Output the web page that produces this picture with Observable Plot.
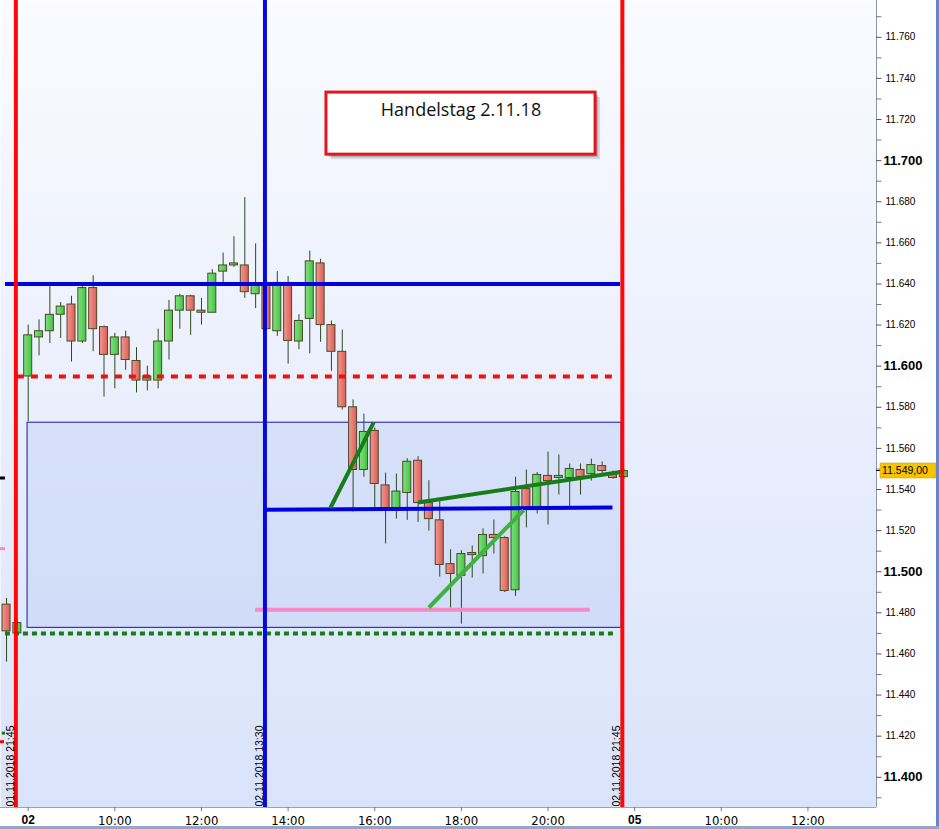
<!DOCTYPE html>
<html><head><meta charset="utf-8">
<script src="https://cdn.jsdelivr.net/npm/d3@7"></script>
<script src="https://cdn.jsdelivr.net/npm/@observablehq/plot@0.6"></script>
<style>html,body{margin:0;padding:0;background:#fff;} #chart{width:939px;height:829px;position:relative;overflow:hidden}</style>
</head><body><div id="chart"></div>
<script>
// ---- 15-minute candles (index 0 = 02.11.2018 08:00, -1 = 01.11.2018 21:45) ----
const candleIndex = [-2,-1,0,1,2,3,4,5,6,7,8,9,10,11,12,13,14,15,16,17,18,19,20,21,22,23,24,25,26,27,28,29,30,31,32,33,34,35,36,37,38,39,40,41,42,43,44,45,46,47,48,49,50,51,52,53,54,55];
const openValues  = [11484,11470,11595,11614,11617,11625,11630,11612,11638,11619,11605.5,11614,11602.5,11593,11593,11612,11627,11634,11627,11626,11646,11649,11649,11635,11640,11617,11640.5,11612,11623,11650,11620,11607,11580,11549.5,11568.5,11542,11530,11538.3,11554,11533.4,11525,11503.7,11498,11509.1,11507.6,11517.9,11516.4,11491,11540.2,11531.5,11546.6,11545.6,11545.6,11549.5,11547.5,11551.4,11547.5,11546];
const highValues  = [11487,11476,11620,11622.5,11639,11631,11634,11639,11644,11619.5,11616,11617,11609,11600,11618,11632,11635,11634.5,11633,11647,11655,11663,11682,11659.5,11642,11646,11643.6,11625,11656,11652,11622,11617.6,11583.6,11576.7,11570,11548,11547.5,11555,11556,11544.3,11534.6,11510.7,11510.2,11512.5,11520.8,11525.2,11517,11546,11549.5,11548.3,11558.2,11556.8,11552.4,11552.4,11554.8,11553.4,11549,11550];
const lowValues   = [11456,11469,11573,11605,11611,11613.5,11602,11611,11607,11585,11589,11598,11587,11588,11589,11603,11618,11615,11620,11626,11639,11648,11633,11628,11617,11614.5,11601,11608,11606,11611.6,11597.5,11578.7,11529,11546,11531,11513.5,11525.6,11525,11524,11519.8,11497.4,11482.3,11474.5,11496.9,11498.9,11508.6,11489.9,11488,11521.3,11528.1,11522.7,11537.3,11531.5,11537.3,11544.1,11547.5,11545,11545];
const closeValues = [11471,11475,11615,11617,11625,11629,11612,11638,11618,11605.5,11614,11603,11593,11595,11612,11627,11634,11627,11626,11645,11649,11650,11636,11640,11618,11640.5,11612.3,11622,11651,11620,11607,11580,11549.5,11568,11542.7,11530,11539,11553.5,11533.4,11525.6,11503.3,11498.9,11508.6,11508.1,11517.9,11516.4,11490.6,11538.8,11531,11547.1,11544.1,11546.6,11550,11546.1,11551.9,11549,11545.6,11549];
const lastPrice = 11549;
const lastPriceLabel = "11.549,00";

// ---- axes ----
const xTickIndex  = [0,8,16,24,32,40,48,56,64,72];
const xTickLabels = ["02","10:00","12:00","14:00","16:00","18:00","20:00","05","10:00","12:00"];
const dayTickLabels = ["02","05"];
const yTickValues = [11400,11420,11440,11460,11480,11500,11520,11540,11560,11580,11600,11620,11640,11660,11680,11700,11720,11740,11760];
const yTickLabels = ["11.400","11.420","11.440","11.460","11.480","11.500","11.520","11.540","11.560","11.580","11.600","11.620","11.640","11.660","11.680","11.700","11.720","11.740","11.760"];
const yMinorTicks = [11390,11410,11430,11450,11470,11490,11510,11530,11550,11570,11590,11610,11630,11650,11670,11690,11710,11730,11750,11770];
const xDomain = [-2.558, 78.33];
const yDomain = [11385.3, 11777.9];

// ---- drawings ----
const verticalLines = [
  {i: -1, color: "#ff0000", label: "01.11.2018 21:45"},
  {i: 22, color: "#0000e0", label: "02.11.2018 13:30"},
  {i: 55, color: "#ff0000", label: "02.11.2018 21:45"}
];
const resistanceLine = [{y: 11640, x1: -2.1, x2: 54.7}];
const redDashedLine  = [{y: 11595, x1: -1.0, x2: 53.95}];
const greenDotLine   = [{y: 11470, x1: -2.1, x2: 54.05}];
const pinkLine       = [{y: 11481.5, x1: 21.0, x2: 51.9}];
const rangeZone      = [{x1: -0.06, x2: 54.8, y1: 11472.7, y2: 11572.5}];
const trendLines = [
  {x1: 21.9, y1: 11530.2, x2: 53.95, y2: 11531.2, color: "#0000e0"},
  {x1: 27.9, y1: 11531.0, x2: 31.9, y2: 11572.7, color: "#187c18"},
  {x1: 36.0, y1: 11533.7, x2: 54.85, y2: 11548.6, color: "#187c18"},
  {x1: 37.0, y1: 11482.6, x2: 45.76, y2: 11530.0, color: "#3fb23f"}
];
const prevDayStubs = [
  {y: 11545.6, x1: -2.558, x2: -2.1, color: "#000000"},
  {y: 11511.2, x1: -2.558, x2: -2.1, color: "#f58ac8"},
  {y: 11417.3, x1: -2.558, x2: -2.19, color: "#ff0000"},
  {y: 11421.5, x1: -2.40, x2: -2.10, color: "#187c18"}
];
const titleBox = [{x1: 27.54, x2: 52.39, y1: 11702.9, y2: 11733.1, ty: 11724.3, label: "Handelstag 2.11.18"}];

const candles = candleIndex.map((i, k) => ({i, o: openValues[k], h: highValues[k], l: lowValues[k], c: closeValues[k]}));
const fmtLabel = v => yTickLabels[yTickValues.indexOf(v)];
const isHundred = v => v % 100 === 0;

const svg = Plot.plot({
  width: 939, height: 829,
  marginLeft: 0, marginRight: 63, marginTop: 0, marginBottom: 22,
  x: {domain: xDomain, axis: null},
  y: {domain: yDomain, axis: null},
  color: {type: "identity"},
  style: {background: "#ffffff", overflow: "visible"},
  marks: [
    Plot.frame({fill: "url(#bgGrad)", stroke: null}),
    Plot.rect(rangeZone, {x1: "x1", x2: "x2", y1: "y1", y2: "y2", fill: "#b2c4f4", fillOpacity: 0.32, stroke: "#1414b4", strokeWidth: 1}),
    Plot.ruleY(prevDayStubs, {y: "y", x1: "x1", x2: "x2", stroke: "color", strokeWidth: 3}),
    // candles
    Plot.ruleX(candles, {x: "i", y1: "l", y2: "h", stroke: "#2c4a1e", strokeWidth: 1}),
    Plot.rect(candles, {x1: d => d.i - 0.37, x2: d => d.i + 0.37, y1: "o", y2: "c",
      fill: d => d.c >= d.o ? "url(#gUp)" : "url(#gDn)", stroke: "#4a4a26", strokeWidth: 1}),
    // horizontal drawings
    Plot.ruleY(resistanceLine, {y: "y", x1: "x1", x2: "x2", stroke: "#0000e0", strokeWidth: 4}),
    Plot.ruleY(redDashedLine, {y: "y", x1: "x1", x2: "x2", stroke: "#f01010", strokeWidth: 4, strokeDasharray: "7,7"}),
    Plot.ruleY(greenDotLine, {y: "y", x1: "x1", x2: "x2", stroke: "#187c18", strokeWidth: 4, strokeDasharray: "5,4"}),
    Plot.ruleY(pinkLine, {y: "y", x1: "x1", x2: "x2", stroke: "#f58ac8", strokeWidth: 4}),
    Plot.link(trendLines, {x1: "x1", y1: "y1", x2: "x2", y2: "y2", stroke: "color", strokeWidth: 4}),
    // vertical time lines
    Plot.ruleX(verticalLines, {x: "i", stroke: "color", strokeWidth: 4, dx: -1.5, strokeOpacity: 0.97}),
    Plot.text(verticalLines, {x: "i", y: yDomain[0], text: "label", rotate: -90, textAnchor: "start", lineAnchor: "bottom",
      dx: -3.5, dy: -1, fontSize: 10.5, fill: "#000", fontFamily: "Liberation Sans, Arial, sans-serif"}),
    // title annotation
    Plot.rect(titleBox, {x1: "x1", x2: "x2", y1: "y1", y2: "y2", fill: "#000", fillOpacity: 0.12, dx: 5, dy: 5}),
    Plot.rect(titleBox, {x1: "x1", x2: "x2", y1: "y1", y2: "y2", fill: "#000", fillOpacity: 0.2, dx: 3, dy: 3}),
    Plot.rect(titleBox, {x1: "x1", x2: "x2", y1: "y1", y2: "y2", fill: "#ffffff", stroke: "#e3151d", strokeWidth: 3}),
    Plot.text(titleBox, {x: d => (d.x1 + d.x2) / 2, y: "ty", text: "label", fontSize: 18, fill: "#111",
      fontFamily: "Open Sans, Noto Sans, sans-serif"}),
    // axis frame lines
    Plot.ruleY([yDomain[0]], {y: d => d, x1: xDomain[0], x2: xDomain[1], stroke: "#9aa2b4", strokeWidth: 1}),
    Plot.ruleX([xDomain[1]], {x: d => d, y1: yDomain[0], y2: yDomain[1], stroke: "#8b96ae", strokeWidth: 1}),
    // y axis ticks and labels
    Plot.ruleY(yTickValues, {y: d => d, x1: xDomain[1], x2: xDomain[1] + 0.5, stroke: "#555"}),
    Plot.ruleY(yMinorTicks, {y: d => d, x1: xDomain[1], x2: xDomain[1] + 0.5, stroke: "#777"}),
    Plot.text(yTickValues.filter(v => !isHundred(v)), {x: xDomain[1], y: d => d, text: fmtLabel, dx: 9, textAnchor: "start",
      fontSize: 10, fill: "#000", fontFamily: "Liberation Sans, Arial, sans-serif"}),
    Plot.text(yTickValues.filter(isHundred), {x: xDomain[1], y: d => d, text: fmtLabel, dx: 7, textAnchor: "start",
      fontSize: 13, fontWeight: "bold", fill: "#000", fontFamily: "Liberation Sans, Arial, sans-serif"}),
    // x axis ticks and labels
    Plot.ruleX(xTickIndex, {x: d => d, y1: yDomain[0], y2: yDomain[0] - 2, stroke: "#777"}),
    Plot.text(xTickIndex.filter((d, k) => !dayTickLabels.includes(xTickLabels[k])), {x: d => d, y: yDomain[0], dy: 13,
      text: d => xTickLabels[xTickIndex.indexOf(d)], fontSize: 13, fill: "#000",
      fontFamily: "Liberation Sans Narrow, DejaVu Sans Condensed, sans-serif"}),
    Plot.text(xTickIndex.filter((d, k) => dayTickLabels.includes(xTickLabels[k])), {x: d => d, y: yDomain[0], dy: 13,
      text: d => xTickLabels[xTickIndex.indexOf(d)], fontSize: 12, fontWeight: "bold", fill: "#000",
      fontFamily: "Liberation Sans, Arial, sans-serif"})
  ]
});

// gradients
const defs = d3.create("svg:defs");
const bg = defs.append("linearGradient").attr("id", "bgGrad").attr("x1", 0).attr("y1", 0).attr("x2", 0).attr("y2", 1);
bg.append("stop").attr("offset", "0%").attr("stop-color", "#fafbff");
bg.append("stop").attr("offset", "100%").attr("stop-color", "#d9e3fa");
const gu = defs.append("linearGradient").attr("id", "gUp").attr("x1", 0).attr("y1", 0).attr("x2", 1).attr("y2", 0);
gu.append("stop").attr("offset", "0%").attr("stop-color", "#7fe27f");
gu.append("stop").attr("offset", "100%").attr("stop-color", "#45c445");
const gd = defs.append("linearGradient").attr("id", "gDn").attr("x1", 0).attr("y1", 0).attr("x2", 1).attr("y2", 0);
gd.append("stop").attr("offset", "0%").attr("stop-color", "#f29891");
gd.append("stop").attr("offset", "100%").attr("stop-color", "#dc5e57");
svg.insertBefore(defs.node(), svg.firstChild);

// current price marker on the y axis, placed with Plot's own scales
const ys = svg.scale("y"), xs = svg.scale("x");
const py = ys.apply(lastPrice), px = xs.apply(xDomain[1]);
const s = d3.select(svg);
const g = s.append("g");
g.append("line").attr("x1", px).attr("x2", px + 5).attr("y1", py).attr("y2", py).attr("stroke", "#000");
g.append("rect").attr("x", px + 4).attr("y", py - 7.5).attr("width", 56).attr("height", 15)
  .attr("fill", "#f8c400").attr("stroke", "#c79a00").attr("stroke-width", 0.5);
g.append("text").attr("x", px + 6).attr("y", py).attr("dy", "0.35em").attr("font-size", 10.5)
  .attr("text-anchor", "start")
  .attr("font-family", "Liberation Sans, Arial, sans-serif").attr("fill", "#000").text(lastPriceLabel);
// window border
g.append("rect").attr("x", 936).attr("y", 0).attr("width", 3).attr("height", 829).attr("fill", "#5a8ad6");
g.append("rect").attr("x", 0).attr("y", 826).attr("width", 939).attr("height", 3).attr("fill", "#8fa8d0");

document.getElementById("chart").appendChild(svg);
</script>
</body></html>
